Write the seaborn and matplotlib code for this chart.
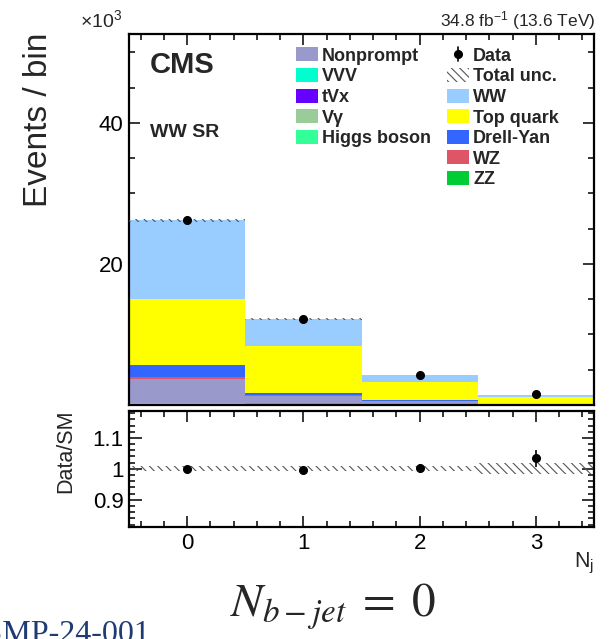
import numpy as np
import pandas as pd
import matplotlib
matplotlib.use("Agg")
import matplotlib.pyplot as plt
import seaborn as sns
from matplotlib.patches import Rectangle
from matplotlib.lines import Line2D
from matplotlib.ticker import MultipleLocator, FixedLocator, FixedFormatter

# ---------------- data (x10^3 events per bin) ----------------
nj_bins = [0, 1, 2, 3]
zz = [0.12, 0.06, 0.02, 0.008]
higgs = [0.05, 0.03, 0.015, 0.005]
vgamma = [0.05, 0.02, 0.01, 0.004]
tvx = [0.02, 0.01, 0.005, 0.002]
vvv = [0.01, 0.005, 0.002, 0.001]
nonprompt = [3.45, 1.2, 0.5, 0.08]
wz = [0.3, 0.13, 0.04, 0.01]
drell_yan = [1.7, 0.3, 0.05, 0.01]
top_quark = [9.3, 6.65, 2.62, 1.0]
ww = [11.2, 3.8, 0.99, 0.34]
data = [26.2, 12.15, 4.26, 1.51]
ratio_err = [0.006, 0.009, 0.015, 0.028]
syst_rel = [0.008, 0.008, 0.008, 0.018]

# stacking order, bottom to top
process_names = ['ZZ', 'Higgs boson', 'V\u03b3', 'tVx', 'VVV', 'Nonprompt',
                 'WZ', 'Drell-Yan', 'Top quark', 'WW']
process_values = [zz, higgs, vgamma, tvx, vvv, nonprompt, wz, drell_yan,
                  top_quark, ww]
colors = {
    'Nonprompt': '#9999CC', 'VVV': '#00FFCC', 'tVx': '#6600FF',
    'V\u03b3': '#99CC99', 'Higgs boson': '#33FF99', 'WW': '#99CCFF',
    'Top quark': '#FFFF00', 'Drell-Yan': '#3366FF', 'WZ': '#DD5566',
    'ZZ': '#00CC33',
}
legend_left = ['Nonprompt', 'VVV', 'tVx', 'V\u03b3', 'Higgs boson']
legend_right = ['Data', 'Total unc.', 'WW', 'Top quark', 'Drell-Yan', 'WZ', 'ZZ']

rows = []
for name, vals in zip(process_names, process_values):
    for b, v in zip(nj_bins, vals):
        rows.append({'Nj': b, 'process': name, 'events': v})
df = pd.DataFrame(rows)

total = np.sum(np.array(process_values), axis=0)
ratio = np.array(data) / total
edges = np.arange(-0.5, 4.0, 1.0)

# ---------------- style ----------------
sns.set_theme(style="ticks")
plt.rcParams['font.family'] = ['Liberation Sans', 'DejaVu Sans']
plt.rcParams['mathtext.fontset'] = 'custom'
plt.rcParams['mathtext.rm'] = 'Liberation Sans'
plt.rcParams['mathtext.it'] = 'Liberation Sans:italic'
plt.rcParams['mathtext.bf'] = 'Liberation Sans:bold'
plt.rcParams['hatch.linewidth'] = 0.8
plt.rcParams['axes.edgecolor'] = 'black'
plt.rcParams['xtick.color'] = 'black'
plt.rcParams['ytick.color'] = 'black'

W, H = 616, 639
fig = plt.figure(figsize=(W / 100, H / 100), dpi=100)


def fx(px):
    return px / W


def fy(py):
    return 1 - py / H


ax = fig.add_axes([fx(129), fy(405), fx(594) - fx(129), fy(34) - fy(405)])
axr = fig.add_axes([fx(129), fy(527), fx(594) - fx(129), fy(410.7) - fy(527)])

hue_order = process_names[::-1]
sns.histplot(data=df, x='Nj', weights='events', hue='process',
             hue_order=hue_order, palette=colors, multiple='stack',
             discrete=True, shrink=1, element='bars', fill=True, alpha=1,
             linewidth=0, legend=False, ax=ax)

unc = total * np.array(syst_rel)
ax.stairs(total + unc, edges, baseline=total - unc, fill=True,
          facecolor='none', hatch='\\\\\\\\', edgecolor='#555555',
          linewidth=0, zorder=3)
ax.errorbar(nj_bins, data, fmt='o', color='black', ms=5.5, zorder=5)

axr.stairs(1 + np.array(syst_rel), edges, baseline=1 - np.array(syst_rel),
           fill=True, facecolor='none', hatch='\\\\\\\\', edgecolor='#555555',
           linewidth=0, zorder=2)
axr.errorbar(nj_bins, ratio, yerr=ratio_err, fmt='o', color='black', ms=5.5,
             elinewidth=1.2, capsize=0, zorder=5)

for a in (ax, axr):
    a.set_xlim(-0.5, 3.5)
    a.set_xlabel('')
    a.set_ylabel('')
    a.xaxis.set_major_locator(MultipleLocator(1))
    a.xaxis.set_minor_locator(MultipleLocator(0.2))
    a.tick_params(which='both', direction='in', top=True, right=True,
                  width=1.1, labelsize=16, pad=4)
    a.tick_params(which='major', length=8)
    a.tick_params(which='minor', length=4.5)
    for sp in a.spines.values():
        sp.set_linewidth(1.6)

ax.set_ylim(0, 52.6)
ax.yaxis.set_major_locator(FixedLocator([20, 40]))
ax.yaxis.set_minor_locator(MultipleLocator(5))
ax.tick_params(labelbottom=False)

axr.set_ylim(0.812, 1.188)
axr.yaxis.set_major_locator(FixedLocator([0.9, 1.0, 1.1]))
axr.yaxis.set_major_formatter(FixedFormatter(['0.9', '1', '1.1']))
axr.yaxis.set_minor_locator(MultipleLocator(0.02))
axr.tick_params(axis='y', which='major', length=9)

# ---------------- texts ----------------
fig.text(fx(39), fy(120), 'Events / bin', rotation=90, ha='center',
         va='center', fontsize=24)
fig.text(fx(66), fy(451), 'Data/SM', rotation=90, ha='center',
         va='center', fontsize=15.5)
fig.text(fx(80), fy(27), '\u00d710$^{3}$', fontsize=14, va='baseline')
fig.text(fx(595), fy(26), '34.8 fb$^{-1}$ (13.6 TeV)', fontsize=12.5,
         ha='right', va='baseline')
fig.text(fx(150), fy(73), 'CMS', fontsize=21, weight='bold', va='baseline')
fig.text(fx(150), fy(137), 'WW SR', fontsize=14, weight='bold', va='baseline')
fig.text(fx(594), fy(567), 'N$_{\\rm j}$', fontsize=15.5, ha='right',
         va='baseline')
fig.text(fx(230), fy(617), r'$N_{b-jet}\;=\;0$', math_fontfamily='stix',
         fontsize=34, va='baseline')
fig.text(fx(150), fy(642), 'CMS-PAS-SMP-24-001', ha='right', va='baseline',
         family='Liberation Serif', fontsize=23, color='#1F3B73')

# ---------------- legend ----------------
row0, dy = 54.3, 20.6
for i, name in enumerate(legend_left):
    yc = row0 + i * dy
    fig.add_artist(Rectangle((fx(296), fy(yc + 7)), 22 / W, 14 / H,
                             transform=fig.transFigure,
                             facecolor=colors[name], edgecolor='none'))
    fig.text(fx(322), fy(yc + 6.5), name, fontsize=13, weight='bold',
             va='baseline')
for i, name in enumerate(legend_right):
    yc = row0 + i * dy
    if name == 'Data':
        fig.add_artist(Line2D([fx(458), fx(458)], [fy(yc - 7), fy(yc + 7)],
                              transform=fig.transFigure, color='black',
                              lw=1.2))
        fig.add_artist(Line2D([fx(458)], [fy(yc)], transform=fig.transFigure,
                              marker='o', ms=5.5, color='black'))
    elif name == 'Total unc.':
        fig.add_artist(Rectangle((fx(447), fy(yc + 7)), 22 / W, 14 / H,
                                 transform=fig.transFigure,
                                 facecolor='none', edgecolor='#555555',
                                 hatch='\\\\\\\\', linewidth=0))
    else:
        fig.add_artist(Rectangle((fx(447), fy(yc + 7)), 22 / W, 14 / H,
                                 transform=fig.transFigure,
                                 facecolor=colors[name], edgecolor='none'))
    fig.text(fx(473), fy(yc + 6.5), name, fontsize=13, weight='bold',
             va='baseline')

fig.savefig('out.png', dpi=100)
